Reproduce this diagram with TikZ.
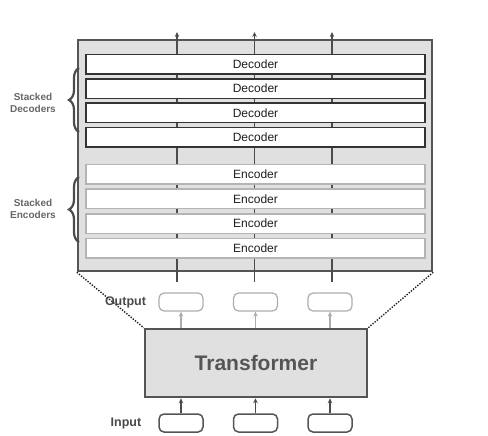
\documentclass[tikz,border=0pt]{standalone}
\usepackage{fontspec}
\setmainfont{Liberation Sans}
\usetikzlibrary{arrows.meta,decorations.pathreplacing}
\definecolor{boxfill}{HTML}{E0E0E0}
\definecolor{darkline}{HTML}{555555}
\definecolor{decline}{HTML}{333333}
\definecolor{encline}{HTML}{B4B4B4}
\definecolor{outline}{HTML}{ADADAD}
\definecolor{labeltext}{HTML}{4A4A4A}
\definecolor{bracetext}{HTML}{666666}
\tikzset{
  bigbox/.style={draw=darkline, line width=2.5pt, fill=boxfill, inner sep=0pt},
  decbox/.style={draw=decline, line width=1.5pt, fill=white, minimum width=339pt, minimum height=19.5pt, inner sep=0pt, font=\fontsize{12}{14}\selectfont, text=black!88},
  encbox/.style={draw=encline, line width=1.5pt, fill=white, minimum width=339pt, minimum height=19.5pt, inner sep=0pt, font=\fontsize{12}{14}\selectfont, text=black!88},
  outbox/.style={draw=outline, line width=1.2pt, rounded corners=5pt, fill=white, minimum width=44pt, minimum height=18pt, inner sep=0pt},
  inbox/.style={draw=darkline, line width=1.5pt, rounded corners=5pt, fill=white, minimum width=44pt, minimum height=18pt, inner sep=0pt},
  vline/.style={draw=black!70, line width=1.3pt, -{Stealth[length=5pt,width=4.5pt]}},
  outarrow/.style={draw=outline, line width=1.2pt, -{Stealth[length=5pt,width=4.5pt]}},
  inarrow/.style={draw=black!70, line width=1.3pt, -{Stealth[length=5pt,width=4.5pt]}},
  dotline/.style={draw=black!85, line width=1.4pt, dash pattern=on 1.4pt off 1.4pt},
  bracestyle/.style={draw=black!70, line width=2.2pt, decorate, decoration={brace, amplitude=10pt}},
  sidelabel/.style={align=center, font=\bfseries\fontsize{10}{12}\selectfont, text=bracetext},
  iolabel/.style={font=\bfseries\fontsize{12.5}{14}\selectfont, text=labeltext},
}
\begin{document}
\begin{tikzpicture}[x=1pt,y=-1pt]
\useasboundingbox (0,0) rectangle (488,436);

% stack box
\node[bigbox, minimum width=354pt, minimum height=231pt] (stack) at (255,155.5) {};

% vertical flow lines
\coordinate (l1b) at (177,282); \coordinate (l1t) at (177,32);
\coordinate (l2b) at (254.5,282); \coordinate (l2t) at (254.5,32);
\coordinate (l3b) at (332,282); \coordinate (l3t) at (332,32);
\draw[vline] (l1b) -- (l1t);
\draw[vline] (l2b) -- (l2t);
\draw[vline] (l3b) -- (l3t);

% decoders
\node[decbox] (d1) at (255.5,64.5) {Decoder};
\node[decbox] (d2) at (255.5,88.7) {Decoder};
\node[decbox] (d3) at (255.5,112.9) {Decoder};
\node[decbox] (d4) at (255.5,137.1) {Decoder};

% encoders
\node[encbox] (e1) at (255.5,174) {Encoder};
\node[encbox] (e2) at (255.5,198.8) {Encoder};
\node[encbox] (e3) at (255.5,223.5) {Encoder};
\node[encbox] (e4) at (255.5,248.3) {Encoder};

% braces
\coordinate (bd1) at (79,132); \coordinate (bd2) at (79,68);
\coordinate (be1) at (79,242); \coordinate (be2) at (79,177);
\draw[bracestyle] (bd1) -- (bd2);
\draw[bracestyle] (be1) -- (be2);
\node[sidelabel] (sd) at (33,103) {Stacked\\Decoders};
\node[sidelabel] (se) at (33,209) {Stacked\\Encoders};

% transformer
\node[bigbox, minimum width=222pt, minimum height=68pt, font=\bfseries\fontsize{21}{24}\selectfont, text=darkline] (tr) at (256,363) {Transformer};

% output boxes
\node[outbox] (o1) at (181,302) {};
\node[outbox] (o2) at (255.5,302) {};
\node[outbox] (o3) at (330,302) {};
\node[iolabel] (olab) at (125.5,302) {Output};

% input boxes
\node[inbox] (i1) at (181,423) {};
\node[inbox] (i2) at (255.5,423) {};
\node[inbox] (i3) at (330,423) {};
\node[iolabel] (ilab) at (126,423) {Input};

% arrows
\draw[outarrow] (tr.north -| o1) -- (o1.south);
\draw[outarrow] (tr.north -| o2) -- (o2.south);
\draw[outarrow] (tr.north -| o3) -- (o3.south);
\draw[inarrow] (i1.north) -- (tr.south -| i1);
\draw[inarrow] (i2.north) -- (tr.south -| i2);
\draw[inarrow] (i3.north) -- (tr.south -| i3);

% dotted zoom lines
\draw[dotline] (stack.south west) -- (tr.north west);
\draw[dotline] (stack.south east) -- (tr.north east);
\end{tikzpicture}
\end{document}
